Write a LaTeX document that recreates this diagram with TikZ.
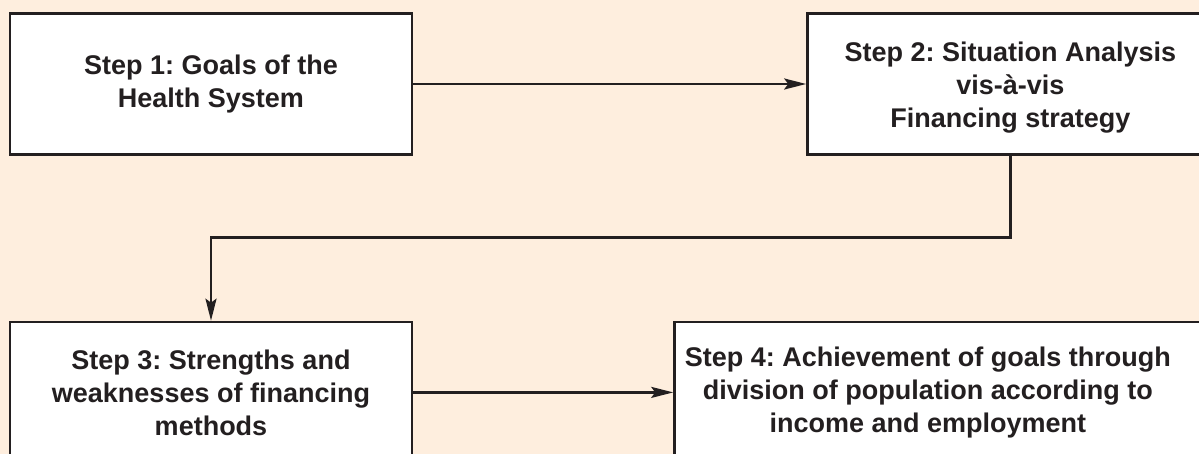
\documentclass[tikz,border=0pt]{standalone}
\usepackage{fontspec}
\setmainfont{Liberation Sans}
\usepackage{tikz}
\usetikzlibrary{arrows.meta, positioning}
\definecolor{PeachBg}{RGB}{254,238,222}
\definecolor{InkGray}{RGB}{35,31,32}
\frenchspacing

\begin{document}
\begin{tikzpicture}[
    x=0.5pt, y=-0.5pt,
    stepbox/.style={rectangle, draw=InkGray, line width=1.2pt, fill=white,
                minimum width=201pt, minimum height=70.5pt, align=center,
                text=InkGray, font=\fontsize{13.5}{16.5}\selectfont\bfseries},
    arrow/.style={-{Stealth[length=11pt, width=5.5pt, inset=2pt]}, line width=1.2pt, draw=InkGray}
]

% Background
\fill[PeachBg] (0,0) rectangle (1199,454);
\clip (0,0) rectangle (1199,454);

% Steps
\node[stepbox] (goals) at (211,84) {Step 1: Goals of the\\Health System};
\node[stepbox, minimum width=203pt, right=196.5pt of goals] (situation) {\\[-3pt]Step 2: Situation Analysis\\vis-à-vis\\Financing strategy};
\node[stepbox, below=82.5pt of goals] (methods) {Step 3: Strengths and\\weaknesses of financing\\methods};
\node[stepbox, minimum width=268.5pt, right=130pt of methods] (division)
    {\begin{tabular}{@{}c@{\hspace{15pt}}}Step 4: Achievement of goals through\\division of population according to\\income and employment\end{tabular}};

% Arrows
\draw[arrow] (goals) -- (situation);
\draw[arrow] (situation.south) -- ++(0,82) -| (methods.north);
\draw[arrow] (methods) -- (division);

\end{tikzpicture}
\end{document}
